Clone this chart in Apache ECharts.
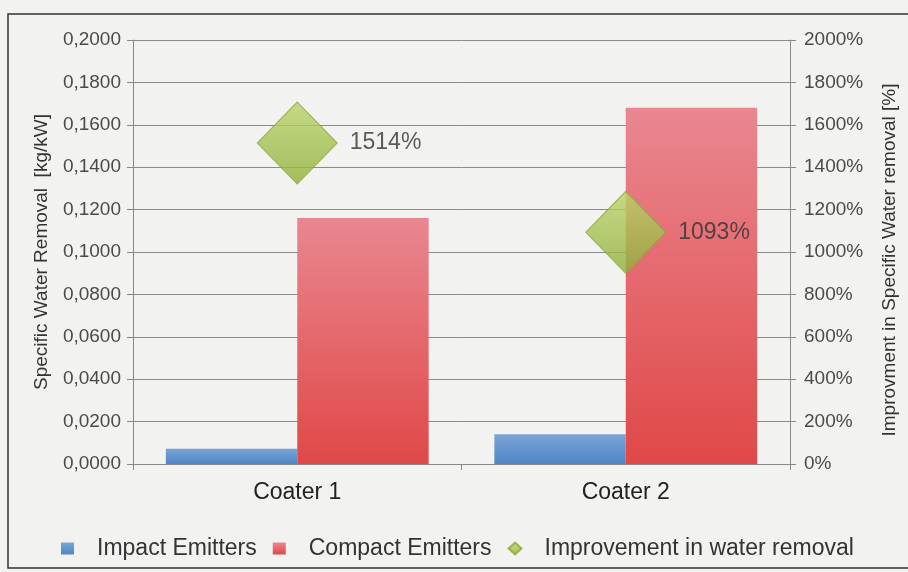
<!DOCTYPE html>
<html><head><meta charset="utf-8">
<script src="https://cdn.jsdelivr.net/npm/echarts@6/dist/echarts.min.js"></script>
<style>html,body{margin:0;padding:0;background:#f2f2f0}#c{width:908px;height:572px}</style>
</head><body><div id="c"></div>
<script>
const categories = ['Coater 1', 'Coater 2'];
const impactEmitters = [0.0072, 0.014];
const compactEmitters = [0.116, 0.168];
const improvement = [1514, 1093];
const leftTicks = {min: 0, max: 0.2, interval: 0.02};
const rightTicks = {min: 0, max: 2000, interval: 200};

const chart = echarts.init(document.getElementById('c'), null, {renderer: 'canvas'});
const font = 'Liberation Sans, Arial, sans-serif';
chart.setOption({
  backgroundColor: '#f2f2f0',
  animation: false,
  textStyle: {fontFamily: font},
  graphic: [{type: 'rect', shape: {x: 8, y: 14, width: 910, height: 554}, style: {fill: 'none', stroke: '#333', lineWidth: 1.5}}],
  grid: {left: 133, right: 118, top: 40, bottom: 108},
  legend: {
    top: 532, left: 56,
    itemWidth: 13, itemHeight: 12, itemGap: 16,
    textStyle: {fontSize: 23, color: '#333', fontFamily: font, padding: [0, 0, 0, 18]},
    data: [
      {name: 'Impact Emitters', icon: 'rect'},
      {name: 'Compact Emitters', icon: 'rect'},
      {name: 'Improvement in water removal', icon: 'diamond'}
    ]
  },
  xAxis: {
    type: 'category', data: categories,
    axisLine: {lineStyle: {color: '#888'}},
    axisTick: {show: true, length: 6, lineStyle: {color: '#888'}},
    axisLabel: {fontSize: 23, color: '#222', margin: 17}
  },
  yAxis: [{
    type: 'value', min: leftTicks.min, max: leftTicks.max, interval: leftTicks.interval,
    name: 'Specific Water Removal  [kg/kW]', nameLocation: 'middle', nameGap: 82, nameRotate: 90,
    nameTextStyle: {fontSize: 19, color: '#333'},
    axisLine: {show: true, lineStyle: {color: '#888'}},
    axisTick: {show: true, length: 6, lineStyle: {color: '#888'}},
    axisLabel: {fontSize: 19, color: '#4a4a4a', margin: 12, formatter: v => v.toFixed(4).replace('.', ',')},
    splitLine: {lineStyle: {color: '#8a8a8a', width: 1}}
  }, {
    type: 'value', min: rightTicks.min, max: rightTicks.max, interval: rightTicks.interval,
    name: 'Improvment in Specific Water removal [%]', nameLocation: 'middle', nameGap: 90, nameRotate: 90,
    nameTextStyle: {fontSize: 19, color: '#333', padding: [0, 16, 0, 0]},
    axisLine: {show: true, lineStyle: {color: '#888'}},
    axisTick: {show: true, length: 6, lineStyle: {color: '#888'}},
    axisLabel: {fontSize: 19, color: '#4a4a4a', formatter: v => v + '%', margin: 14},
    splitLine: {show: false}
  }],
  series: [{
    name: 'Impact Emitters', type: 'bar', data: impactEmitters, barGap: '0%', barCategoryGap: '20%',
    itemStyle: {color: new echarts.graphic.LinearGradient(0, 0, 0, 1, [{offset: 0, color: '#7aa4d8'}, {offset: 1, color: '#4f86c6'}])}
  }, {
    name: 'Compact Emitters', type: 'bar', data: compactEmitters,
    itemStyle: {color: new echarts.graphic.LinearGradient(0, 0, 0, 1, [{offset: 0, color: '#e98790'}, {offset: 1, color: '#e04848'}])}
  }, {
    name: 'Improvement in water removal', type: 'scatter', yAxisIndex: 1, data: improvement,
    symbol: 'diamond', symbolSize: [80, 82], z: 5,
    itemStyle: {color: new echarts.graphic.LinearGradient(0, 0, 0, 1, [{offset: 0, color: '#bcd36a'}, {offset: 1, color: '#8fb03a'}]), borderColor: '#8aa63a', borderWidth: 1},
    label: {show: true, position: 'right', distance: 12, fontSize: 23, color: '#333', formatter: p => p.value + '%'}
  }]
});
</script></body></html>
